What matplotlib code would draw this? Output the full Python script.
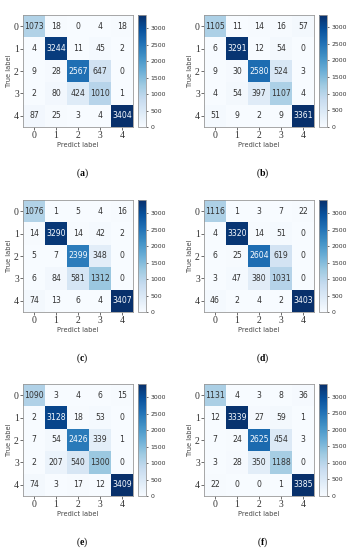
import numpy as np
import matplotlib
matplotlib.use("Agg")
import matplotlib.pyplot as plt

# ==================================================
# CONFUSION MATRICES (rows = true, cols = predicted)
# ==================================================

classes = ["0", "1", "2", "3", "4"]

cm_a = [[1073, 18, 0, 4, 18],
        [4, 3244, 11, 45, 2],
        [9, 28, 2567, 647, 0],
        [2, 80, 424, 1010, 1],
        [87, 25, 3, 4, 3404]]

cm_b = [[1105, 11, 14, 16, 57],
        [6, 3291, 12, 54, 0],
        [9, 30, 2580, 524, 3],
        [4, 54, 397, 1107, 4],
        [51, 9, 2, 9, 3361]]

cm_c = [[1076, 1, 5, 4, 16],
        [14, 3290, 14, 42, 2],
        [5, 7, 2399, 348, 0],
        [6, 84, 581, 1312, 0],
        [74, 13, 6, 4, 3407]]

cm_d = [[1116, 1, 3, 7, 22],
        [4, 3320, 14, 51, 0],
        [6, 25, 2604, 619, 0],
        [3, 47, 380, 1031, 0],
        [46, 2, 4, 2, 3403]]

cm_e = [[1090, 3, 4, 6, 15],
        [2, 3128, 18, 53, 0],
        [7, 54, 2426, 339, 1],
        [2, 207, 540, 1300, 0],
        [74, 3, 17, 12, 3409]]

cm_f = [[1131, 4, 3, 8, 36],
        [12, 3339, 27, 59, 1],
        [7, 24, 2625, 454, 3],
        [3, 28, 350, 1188, 0],
        [22, 0, 0, 1, 3385]]

panel_labels = ["a", "b", "c", "d", "e", "f"]
matrices = [cm_a, cm_b, cm_c, cm_d, cm_e, cm_f]

# ==================================================
# LAYOUT
# ==================================================

plt.rcParams["mathtext.fontset"] = "custom"
plt.rcParams["mathtext.bf"] = "Liberation Serif:bold"
plt.rcParams["mathtext.rm"] = "Liberation Serif"

W, H = 350, 550
fig = plt.figure(figsize=(W / 100, H / 100), dpi=100)

col_left = [23, 204]
row_top = [15, 200, 384]
mat_w, mat_h = 110, 112

serif = "Liberation Serif"
cmap = plt.get_cmap("Blues")

for k, (cm, lab) in enumerate(zip(matrices, panel_labels)):
    cm = np.array(cm)
    r, c = divmod(k, 2)
    x0 = col_left[c]
    y0 = row_top[r]

    ax = fig.add_axes([x0 / W, 1 - (y0 + mat_h) / H, mat_w / W, mat_h / H])
    im = ax.imshow(cm, cmap=cmap, vmin=0, vmax=cm.max(), aspect="auto")

    thresh = (cm.max() + cm.min()) / 2
    for i in range(5):
        for j in range(5):
            color = cmap(0.0) if cm[i, j] > thresh else "#333333"
            ax.text(j, i, str(cm[i, j]), ha="center", va="center",
                    fontsize=5.6, color=color)

    ax.set_xticks(range(5))
    ax.set_yticks(range(5))
    ax.set_xticklabels(classes, fontsize=7, family=serif)
    ax.set_yticklabels(classes, fontsize=7, family=serif)
    ax.tick_params(length=2, width=0.5, pad=1, colors="#333333")
    ax.set_xlabel("Predict label", fontsize=4.8, labelpad=1.5, color="#444444")
    ax.set_ylabel("True label", fontsize=4.8, labelpad=1.0, color="#444444")
    for s in ax.spines.values():
        s.set_linewidth(0.6)
        s.set_color("#999999")

    cax = fig.add_axes([(x0 + 115) / W, 1 - (y0 + mat_h) / H, 8 / W, mat_h / H])
    cb = fig.colorbar(im, cax=cax, ticks=[0, 500, 1000, 1500, 2000, 2500, 3000])
    cb.ax.tick_params(labelsize=4.4, length=1.5, width=0.5, pad=1.5,
                      colors="#333333")
    cb.outline.set_linewidth(0.6)
    cb.outline.set_edgecolor("#999999")

    fig.text((x0 + mat_w / 2 + 4) / W, 1 - (y0 + 158) / H,
             r"$\mathrm{(}\mathbf{" + lab + r"}\mathrm{)}$",
             ha="center", va="center", fontsize=7)

fig.savefig("out.png", dpi=100)
